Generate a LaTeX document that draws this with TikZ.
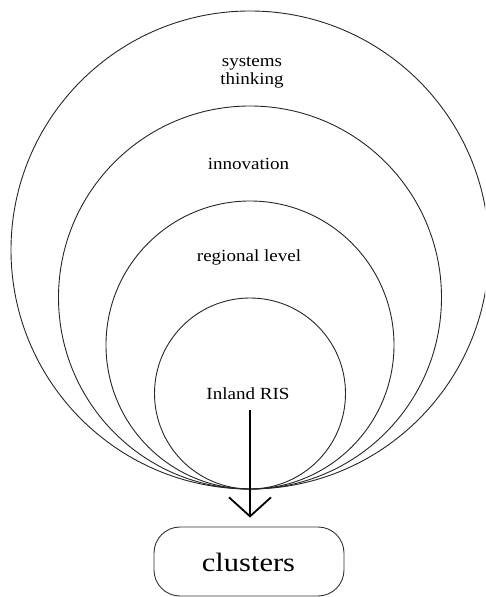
\documentclass[tikz,border=0pt]{standalone}
\usepackage{fontspec}
\setmainfont{Liberation Serif}
\usepackage{graphicx}
\usetikzlibrary{arrows.meta}
\newcommand{\hs}[1]{\scalebox{1.12}[1]{#1}}
\tikzset{
  ring/.style={draw=black!85, line width=0.9pt},
  lbl/.style={inner sep=0pt, font=\fontsize{17}{18}\selectfont, align=center},
  boxstyle/.style={draw=black!80, line width=0.9pt, rounded corners=26pt, minimum width=190pt, minimum height=69pt, inner sep=0pt},
  bigarrow/.style={line width=1.8pt, -{Straight Barb[length=19pt,width=42pt,line width=1.8pt]}}
}
\begin{document}
\begin{tikzpicture}[x=1pt,y=1pt]
\useasboundingbox (0,0) rectangle (485,597);
\clip (0,0) rectangle (485,597);
\draw[ring] (250,347) circle[radius=239];
\draw[ring] (250,299.5) circle[radius=191.5];
\draw[ring] (250,252) circle[radius=144];
\draw[ring] (250,203.5) circle[radius=95.5];
\node[lbl] (sys) at (252,524) {\hs{systems}\\\hs{thinking}};
\node[lbl, anchor=base] (inn) at (248.5,427) {\hs{innovation}};
\node[lbl, anchor=base] (reg) at (249,335) {\hs{regional level}};
\node[lbl, anchor=base] (ris) at (248,197) {\hs{Inland RIS}};
\node[boxstyle] (cl) at (249,35.5) {};
\node[anchor=base, inner sep=0pt, font=\fontsize{26.5}{28}\selectfont] (clt) at (248.5,25) {\scalebox{1.15}[1]{clusters}};
\coordinate (astart) at (250,187);
\draw[bigarrow] (astart) -- ([yshift=9pt]cl.north -| astart);
\end{tikzpicture}
\end{document}
